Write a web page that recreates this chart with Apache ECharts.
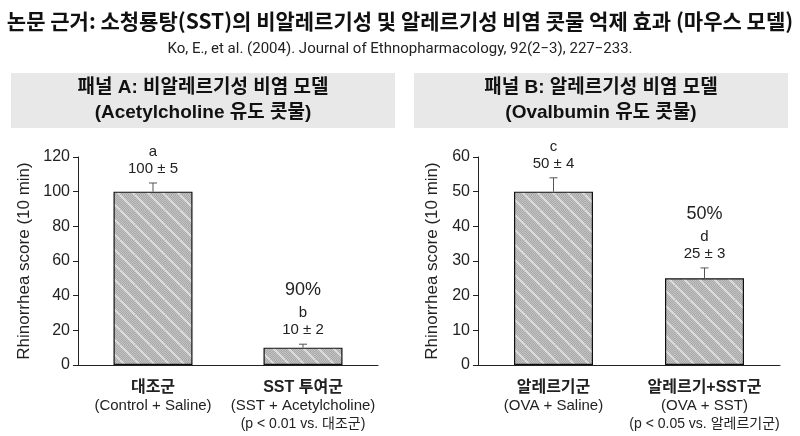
<!DOCTYPE html>
<html>
<head>
<meta charset="utf-8">
<script src="https://cdn.jsdelivr.net/npm/echarts@6/dist/echarts.min.js"></script>
<style>
  html, body { margin: 0; padding: 0; background: #fff; }
  #chart { width: 800px; height: 436px; }
</style>
</head>
<body>
<div id="chart"></div>
<script>
var dom = document.getElementById('chart');
var myChart = echarts.init(dom);

// panel A data
var groupsA = ['대조군', 'SST 투여군'];
var subsA = ['(Control + Saline)', '(SST + Acetylcholine)'];
var notesA = ['', '(p < 0.01 vs. 대조군)'];
var meansA = [100, 10];
var sdsA = [5, 2];
var lettersA = ['a', 'b'];
var pctA = ['', '90%'];

// panel B data
var groupsB = ['알레르기군', '알레르기+SST군'];
var subsB = ['(OVA + Saline)', '(OVA + SST)'];
var notesB = ['', '(p < 0.05 vs. 알레르기군)'];
var meansB = [50, 25];
var sdsB = [4, 3];
var lettersB = ['c', 'd'];
var pctB = ['', '50%'];

var FONT = 'Liberation Sans, Noto Sans CJK KR, sans-serif';
var TXT = '#222';

// hatch tile: fine dither + light "\" stripes
function hatchTile() {
  var n = 15;
  var c = document.createElement('canvas');
  c.width = n; c.height = n;
  var ctx = c.getContext('2d');
  ctx.fillStyle = '#c2c2c2';
  ctx.fillRect(0, 0, n, n);
  ctx.fillStyle = '#a9a9a9';
  for (var y = 0; y < n; y++) {
    for (var x = (y % 2); x < n; x += 2) ctx.fillRect(x, y, 1, 1);
  }
  ctx.strokeStyle = 'rgba(225,225,225,0.9)';
  ctx.lineWidth = 2;
  [-n, 0, n].forEach(function (o) {
    ctx.beginPath();
    ctx.moveTo(o, 0);
    ctx.lineTo(o + n, n);
    ctx.stroke();
  });
  return c;
}

function catLabels(groups, subs, notes) {
  return function (v, i) {
    var s = '{g|' + groups[i] + '}\n{s|' + subs[i] + '}';
    if (notes[i]) s += '\n{n|' + notes[i] + '}';
    return s;
  };
}

var rich = {
  g: { fontSize: 16, fontWeight: 'bold', color: TXT, fontFamily: FONT, lineHeight: 19 },
  s: { fontSize: 15, color: TXT, fontFamily: FONT, lineHeight: 18 },
  n: { fontSize: 14, color: TXT, fontFamily: FONT, lineHeight: 18 }
};

function errRender(means, sds, letters, pcts) {
  return function (params, api) {
    var i = params.dataIndex;
    var base = api.coord([i, means[i]]);
    var top = api.coord([i, means[i] + sds[i]]);
    var ls = { stroke: '#555', lineWidth: 1 };
    var kids = [
      { type: 'line', shape: { x1: base[0], y1: base[1], x2: top[0], y2: top[1] }, style: ls },
      { type: 'line', shape: { x1: top[0] - 4, y1: top[1], x2: top[0] + 4, y2: top[1] }, style: ls },
      { type: 'text', style: { x: top[0], y: top[1] - 14, text: means[i] + ' ± ' + sds[i], align: 'center', verticalAlign: 'middle', font: '15px ' + FONT, fill: TXT } },
      { type: 'text', style: { x: top[0], y: top[1] - 31, text: letters[i], align: 'center', verticalAlign: 'middle', font: '15px ' + FONT, fill: TXT } }
    ];
    if (pcts[i]) {
      kids.push({ type: 'text', style: { x: top[0], y: top[1] - 54, text: pcts[i], align: 'center', verticalAlign: 'middle', font: '18px ' + FONT, fill: TXT } });
    }
    return { type: 'group', children: kids };
  };
}

var barStyle = {
  color: { image: hatchTile(), repeat: 'repeat' },
  borderColor: '#111',
  borderWidth: 1.2
};

function yAxis(idx, max, interval, gap) {
  return {
    gridIndex: idx, type: 'value', min: 0, max: max, interval: interval,
    name: 'Rhinorrhea score (10 min)', nameLocation: 'middle', nameGap: gap, nameRotate: 90,
    nameTextStyle: { fontSize: 17, color: TXT, fontFamily: FONT },
    axisLine: { show: true, lineStyle: { color: '#222', width: 1 } },
    axisTick: { show: true, length: 5, lineStyle: { color: '#222' } },
    axisLabel: { fontSize: 16, color: TXT, fontFamily: FONT, margin: 8 },
    splitLine: { show: false }
  };
}

function xAxis(idx, groups, subs, notes) {
  return {
    gridIndex: idx, type: 'category', data: groups,
    axisLine: { lineStyle: { color: '#222', width: 1 } },
    axisTick: { alignWithLabel: true, length: 5, lineStyle: { color: '#222' } },
    axisLabel: { formatter: catLabels(groups, subs, notes), rich: rich, margin: 13, interval: 0 }
  };
}

var option = {
  backgroundColor: '#fff',
  title: [
    { text: '논문 근거: 소청룡탕(SST)의 비알레르기성 및 알레르기성 비염 콧물 억제 효과 (마우스 모델)', left: 'center', top: 6,
      textStyle: { fontSize: 21, fontWeight: 'bold', color: '#111', fontFamily: 'Noto Sans CJK KR' } },
    { text: 'Ko, E., et al. (2004). Journal of Ethnopharmacology, 92(2−3), 227−233.', left: 'center', top: 37,
      textStyle: { fontSize: 15, fontWeight: 'normal', color: '#222', fontFamily: 'Roboto' } }
  ],
  graphic: [
    { type: 'rect', shape: { x: 11, y: 73, width: 384, height: 55 }, style: { fill: '#e8e8e8' } },
    { type: 'rect', shape: { x: 414, y: 73, width: 374, height: 55 }, style: { fill: '#e8e8e8' } },
    { type: 'text', style: { x: 203, y: 88, text: '패널 A: 비알레르기성 비염 모델', align: 'center', verticalAlign: 'middle', font: 'bold 19px ' + FONT, fill: '#111' } },
    { type: 'text', style: { x: 203, y: 113, text: '(Acetylcholine 유도 콧물)', align: 'center', verticalAlign: 'middle', font: 'bold 19px ' + FONT, fill: '#111' } },
    { type: 'text', style: { x: 601, y: 88, text: '패널 B: 알레르기성 비염 모델', align: 'center', verticalAlign: 'middle', font: 'bold 19px ' + FONT, fill: '#111' } },
    { type: 'text', style: { x: 601, y: 113, text: '(Ovalbumin 유도 콧물)', align: 'center', verticalAlign: 'middle', font: 'bold 19px ' + FONT, fill: '#111' } }
  ],
  grid: [
    { left: 78, right: 422, top: 157, bottom: 71 },
    { left: 478, right: 20, top: 157, bottom: 71 }
  ],
  xAxis: [xAxis(0, groupsA, subsA, notesA), xAxis(1, groupsB, subsB, notesB)],
  yAxis: [yAxis(0, 120, 20, 45), yAxis(1, 60, 10, 37)],
  series: [
    { type: 'bar', xAxisIndex: 0, yAxisIndex: 0, data: meansA, barWidth: 79, itemStyle: barStyle, silent: true },
    { type: 'bar', xAxisIndex: 1, yAxisIndex: 1, data: meansB, barWidth: 79, itemStyle: barStyle, silent: true },
    { type: 'custom', xAxisIndex: 0, yAxisIndex: 0, data: meansA.map(function (v, i) { return [i, v]; }),
      renderItem: errRender(meansA, sdsA, lettersA, pctA), z: 5, silent: true },
    { type: 'custom', xAxisIndex: 1, yAxisIndex: 1, data: meansB.map(function (v, i) { return [i, v]; }),
      renderItem: errRender(meansB, sdsB, lettersB, pctB), z: 5, silent: true }
  ]
};

myChart.setOption(option);
</script>
</body>
</html>
